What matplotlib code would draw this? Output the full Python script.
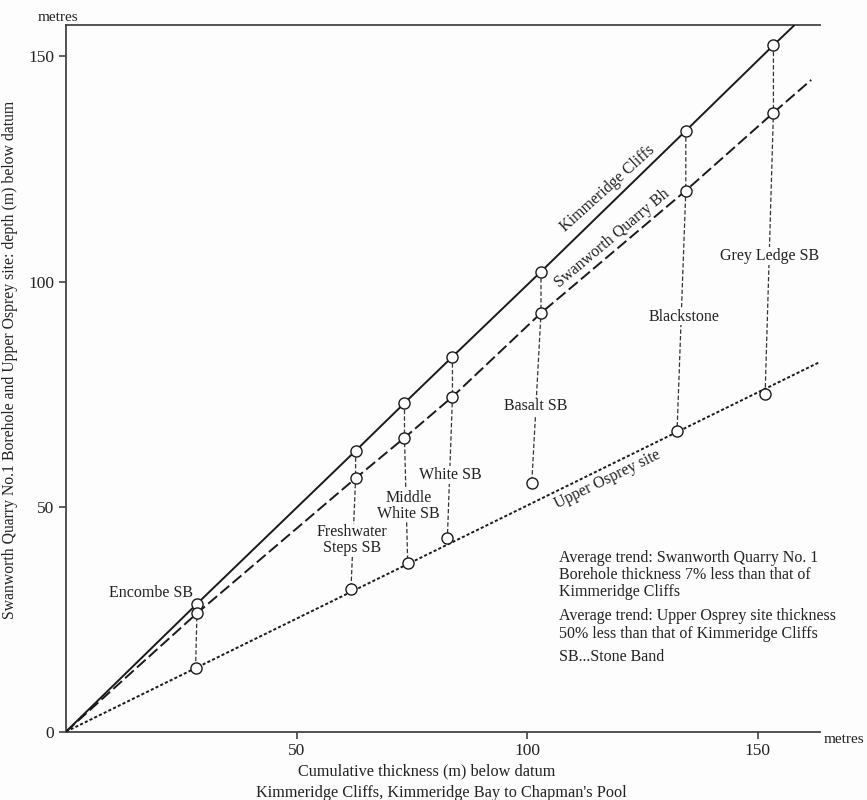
import matplotlib.pyplot as plt

plt.rcParams['font.family'] = ['Liberation Serif', 'DejaVu Serif']

# stone bands
bands = ['Encombe SB', 'Freshwater\nSteps SB', 'Middle\nWhite SB', 'White SB',
         'Basalt SB', 'Blackstone', 'Grey Ledge SB']
kc_x = [28.4, 62.8, 73.4, 83.8, 103.0, 134.4, 153.4]   # Kimmeridge Cliffs thickness
kc_y = [28.4, 62.4, 73.0, 83.3, 102.2, 133.5, 152.5]
sw_y = [26.3, 56.3, 65.3, 74.4, 93.0, 120.2, 137.5]    # Swanworth Quarry Bh
uo_x = [28.1, 61.8, 74.1, 82.7, 101.0, 132.5, 151.6]   # Upper Osprey site
uo_y = [14.1, 31.6, 37.4, 43.0, 55.2, 66.7, 75.0]

# where the trend lines run out
kc_end = (158.0, 157.0)
sw_end = (161.6, 144.8)
uo_end = (163.2, 82.0)

# label positions (data coords)
band_lab_x = [27.6, 62.1, 74.3, 83.3, 101.9, 134.0, 152.6]
band_lab_y = [30.9, 42.5, 50.2, 57.0, 72.3, 92.2, 105.7]
band_lab_ha = ['right', 'center', 'center', 'center', 'center', 'center', 'center']

fig = plt.figure(figsize=(8.67, 8.0), dpi=100)
fig.patch.set_facecolor('#fdfdfd')
ax = fig.add_axes([0.0761, 0.0854, 0.8697, 0.8834])
ax.set_facecolor('#fdfdfd')

ink = '#1a1a1a'
tcol = '#222222'

# trend lines through the origin
ax.plot([0] + kc_x + [kc_end[0]], [0] + kc_y + [kc_end[1]], color=ink, lw=1.4,
        solid_capstyle='butt', zorder=3)
ax.plot([0] + kc_x + [sw_end[0]], [0] + sw_y + [sw_end[1]], color=ink, lw=1.4,
        dashes=(6, 2.2), zorder=3)
ax.plot([0, uo_end[0]], [0, uo_end[1]], color=ink, lw=1.4, dashes=(1.6, 1.1), zorder=3)

# tie lines between the three sections
for i in range(len(bands)):
    ax.plot([kc_x[i], kc_x[i], uo_x[i]], [kc_y[i], sw_y[i], uo_y[i]],
            color='#333333', lw=0.9, dashes=(3.5, 1.8), zorder=2)

ax.plot(kc_x, kc_y, 'o', ms=8, mfc='white', mec=ink, mew=1.0, zorder=5)
ax.plot(kc_x, sw_y, 'o', ms=8, mfc='white', mec=ink, mew=1.0, zorder=5)
ax.plot(uo_x, uo_y, 'o', ms=8, mfc='white', mec=ink, mew=1.0, zorder=5)

for i, b in enumerate(bands):
    ax.text(band_lab_x[i], band_lab_y[i], b, ha=band_lab_ha[i], va='center',
            fontsize=11.5, color=tcol, linespacing=1.0, zorder=4,
            bbox=dict(facecolor='#fdfdfd', edgecolor='none', pad=0.5))

ax.text(117.4, 120.6, 'Kimmeridge Cliffs', rotation=42, ha='center', va='center',
        fontsize=11.5, color=tcol)
ax.text(118.4, 109.6, 'Swanworth Quarry Bh', rotation=40, ha='center', va='center',
        fontsize=11.5, color=tcol)
ax.text(117.4, 56.0, 'Upper Osprey site', rotation=26, ha='center', va='center',
        fontsize=11.5, color=tcol)

notes = ['Average trend: Swanworth Quarry No. 1\nBorehole thickness 7% less than that of\nKimmeridge Cliffs',
         'Average trend: Upper Osprey site thickness\n50% less than that of Kimmeridge Cliffs',
         'SB...Stone Band']
ax.text(106.8, 40.4, notes[0], ha='left', va='top', fontsize=11.5, color=tcol,
        linespacing=1.1)
ax.text(106.8, 27.4, notes[1], ha='left', va='top', fontsize=11.5, color=tcol,
        linespacing=1.1)
ax.text(106.8, 18.4, notes[2], ha='left', va='top', fontsize=11.5, color=tcol)

ax.set_xlim(0, 163.5)
ax.set_ylim(0, 157)
ax.set_xticks([50, 100, 150])
ax.set_yticks([0, 50, 100, 150])
ax.tick_params(direction='out', length=5, width=1.1, colors='#333333',
               labelsize=12.5, labelcolor=tcol)
for s in ['left', 'bottom', 'top']:
    ax.spines[s].set_linewidth(1.3)
    ax.spines[s].set_color('#444444')
ax.spines['right'].set_visible(False)

ax.text(0.479, -0.0566, 'Cumulative thickness (m) below datum', transform=ax.transAxes,
        ha='center', va='center', fontsize=11.7, color=tcol)
ax.text(0.498, -0.0863, "Kimmeridge Cliffs, Kimmeridge Bay to Chapman's Pool",
        transform=ax.transAxes, ha='center', va='center', fontsize=11.7, color=tcol)
ax.set_ylabel('Swanworth Quarry No.1 Borehole and Upper Osprey site: depth (m) below datum',
              fontsize=11.3, color=tcol)
ax.yaxis.set_label_coords(-0.064, 0.526)
ax.text(-1.8, 158.6, 'metres', ha='center', va='center', fontsize=11, color=tcol)
ax.text(164.2, -1.8, 'metres', ha='left', va='center', fontsize=11, color=tcol)

fig.savefig('out.png', dpi=100, facecolor=fig.get_facecolor())
